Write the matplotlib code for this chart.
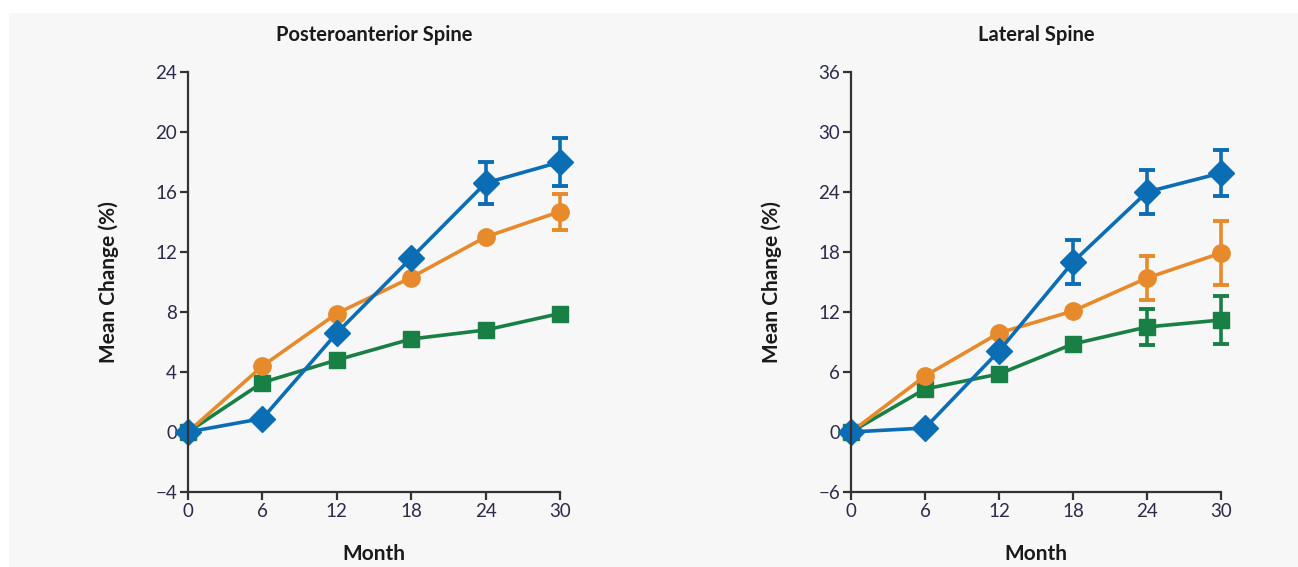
import matplotlib.pyplot as plt
from matplotlib.patches import Rectangle

months = [0, 6, 12, 18, 24, 30]

# posteroanterior spine, mean change (%)
pa_blue = [0, 0.9, 6.6, 11.6, 16.6, 18.0]
pa_blue_err = [0, 0, 0, 0, 1.4, 1.6]
pa_orange = [0, 4.4, 7.9, 10.3, 13.0, 14.7]
pa_orange_err = [0, 0, 0, 0, 0, 1.2]
pa_green = [0, 3.3, 4.8, 6.2, 6.8, 7.9]
pa_green_err = [0, 0, 0, 0, 0, 0]

# lateral spine, mean change (%)
lat_blue = [0, 0.4, 8.1, 17.0, 24.0, 25.9]
lat_blue_err = [0, 0, 0, 2.2, 2.2, 2.3]
lat_orange = [0, 5.6, 9.9, 12.1, 15.4, 17.9]
lat_orange_err = [0, 0, 0, 0, 2.2, 3.2]
lat_green = [0, 4.3, 5.8, 8.8, 10.5, 11.2]
lat_green_err = [0, 0, 0, 0, 1.8, 2.4]

pa_ticks = [-4, 0, 4, 8, 12, 16, 20, 24]
lat_ticks = [-6, 0, 6, 12, 18, 24, 30, 36]

BLUE = "#0b6db4"
ORANGE = "#e78a2c"
GREEN = "#198045"
TXT = "#1a1a1a"

plt.rcParams['font.family'] = ['Lato', 'DejaVu Sans']

fig = plt.figure(figsize=(12.98, 5.67), dpi=100)
fig.add_artist(Rectangle((9 / 1298, 0), 1 - 9 / 1298, 1 - 13 / 567,
                         transform=fig.transFigure, facecolor="#f7f7f7",
                         edgecolor="none", zorder=-10))

ax1 = fig.add_axes([188 / 1298, 1 - 492 / 567, 372 / 1298, 420 / 567])
ax2 = fig.add_axes([851 / 1298, 1 - 492 / 567, 370 / 1298, 420 / 567])


def draw(ax, title, ticks, series):
    ax.set_facecolor("none")
    for vals, errs, color, marker, ms in series:
        ax.errorbar(months, vals, yerr=errs, color=color, marker=marker,
                    markersize=ms, markeredgecolor=color, linewidth=2.6,
                    elinewidth=2.6, capsize=5.5, capthick=2.8, clip_on=False)
    ax.set_xlim(0, 30)
    ax.set_ylim(ticks[0], ticks[-1])
    ax.set_xticks(months)
    ax.set_yticks(ticks)
    ax.set_yticklabels([("\u2212" + str(-t)) if t < 0 else str(t) for t in ticks])
    for s in ["top", "right"]:
        ax.spines[s].set_visible(False)
    for s in ["left", "bottom"]:
        ax.spines[s].set_linewidth(1.6)
        ax.spines[s].set_color("#333333")
    ax.tick_params(direction="out", length=6, width=1.6, color="#333333",
                   labelsize=13.5, labelcolor="#2b2b4a", pad=2)
    ax.set_title(title, fontsize=14.5, fontweight="bold", color=TXT, pad=22)
    ax.set_xlabel("Month", fontsize=15, fontweight="bold", color=TXT, labelpad=17)
    ax.set_ylabel("Mean Change (%)", fontsize=15, fontweight="bold", color=TXT, labelpad=26)


draw(ax1, "Posteroanterior Spine", pa_ticks, [
    (pa_green, pa_green_err, GREEN, "s", 12),
    (pa_orange, pa_orange_err, ORANGE, "o", 12.5),
    (pa_blue, pa_blue_err, BLUE, "D", 13),
])
draw(ax2, "Lateral Spine", lat_ticks, [
    (lat_green, lat_green_err, GREEN, "s", 12),
    (lat_orange, lat_orange_err, ORANGE, "o", 12.5),
    (lat_blue, lat_blue_err, BLUE, "D", 13),
])

fig.savefig("out.png", dpi=100)
